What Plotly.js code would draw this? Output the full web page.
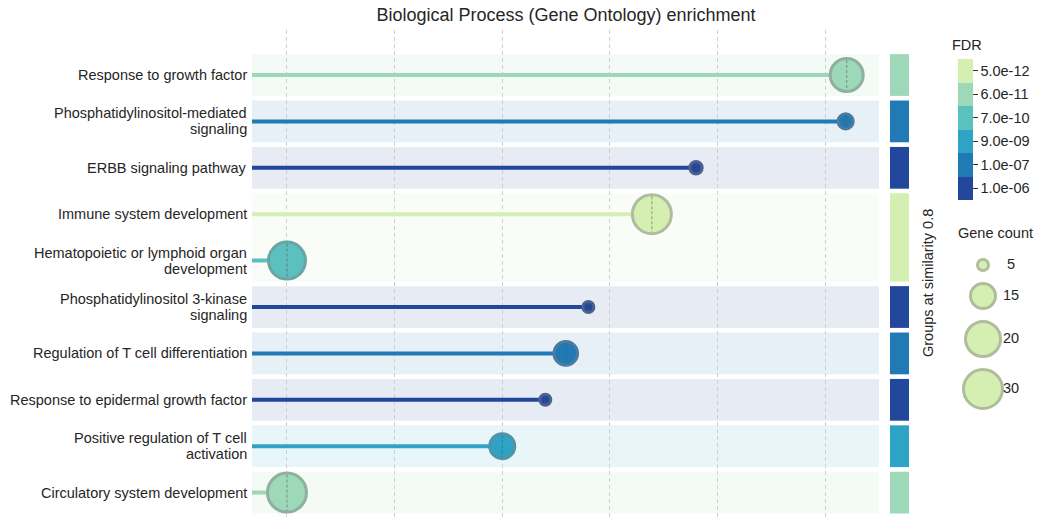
<!DOCTYPE html>
<html>
<head>
<meta charset="utf-8">
<script src="https://cdn.plot.ly/plotly-3.0.1.min.js"></script>
<style>html,body{margin:0;padding:0;background:#fff;}#chart{width:1042px;height:520px;}</style>
</head>
<body>
<div id="chart"></div>
<script>
// ---- data ----
const terms = [
  "Response to growth factor",
  "Phosphatidylinositol-mediated<br>signaling",
  "ERBB signaling pathway",
  "Immune system development",
  "Hematopoietic or lymphoid organ<br>development",
  "Phosphatidylinositol 3-kinase<br>signaling",
  "Regulation of T cell differentiation",
  "Response to epidermal growth factor",
  "Positive regulation of T cell<br>activation",
  "Circulatory system development"
];
const strength = [5.20, 5.19, 3.80, 3.39, 0.00, 2.80, 2.59, 2.40, 2.00, 0.00];
const fdr = ["6.0e-11", "1.0e-07", "1.0e-06", "5.0e-12", "7.0e-10", "1.0e-06", "1.0e-07", "1.0e-06", "9.0e-09", "6.0e-11"];
const geneCount = [19, 8, 6, 30, 25, 5, 14, 5, 15, 30];
const groupId = [1, 2, 3, 4, 4, 5, 6, 7, 8, 9];
const fdrTickLabels = ["1.0e-06", "1.0e-07", "9.0e-09", "7.0e-10", "6.0e-11", "5.0e-12"]; // bottom -> top
const legendCounts = [5, 15, 20, 30];

// ---- styles ----
const fdrColors = ["#23479c", "#2179b5", "#2ea3c6", "#5bc0c0", "#9dd8b9", "#d5efb3"];
const FONT = "Liberation Sans, Arial, Helvetica, sans-serif";
const TXT = "#262626";
const FS = 14.5;
const W = 1042, H = 520;
const plotL = 252, plotR = 879, plotT = 30, plotB = 520;
const xRange = [-0.325, 5.50];
const yRange = [9.59, -0.97];
const pxPerY = (plotB - plotT) / (yRange[0] - yRange[1]);
const OUTLINE = 3;
const LINE_GAP = 16;

// size scale (count -> total diameter px), anchored on legend entries
const sizeAnchors = [[5, 14], [15, 28], [20, 38], [30, 42]];
function diam(c) {
  if (c <= sizeAnchors[0][0]) return sizeAnchors[0][1];
  for (let i = 1; i < sizeAnchors.length; i++) {
    const [c0, d0] = sizeAnchors[i - 1], [c1, d1] = sizeAnchors[i];
    if (c <= c1) return d0 + (d1 - d0) * (c - c0) / (c1 - c0);
  }
  return sizeAnchors[sizeAnchors.length - 1][1];
}
function rgb(hex) { const n = parseInt(hex.slice(1), 16); return [(n >> 16) & 255, (n >> 8) & 255, n & 255]; }
function hexA(hex, a) { const [r, g, b] = rgb(hex); return `rgba(${r},${g},${b},${a})`; }
function edge(hex) { const [r, g, b] = rgb(hex); const m = v => Math.round(v * 0.55 + 128 * 0.45); return `rgb(${m(r)},${m(g)},${m(b)})`; }

const rows = terms.map((_, i) => i);
const fdrIdx = fdr.map(f => fdrTickLabels.indexOf(f));
const rowColor = fdrIdx.map(k => fdrColors[k]);

// discrete colorscale
const cs = [];
fdrColors.forEach((c, k) => { cs.push([k / 6, c]); cs.push([(k + 1) / 6, c]); });

const traces = [];
// stems
rows.forEach(i => {
  traces.push({
    type: "scatter", mode: "lines", x: [xRange[0], strength[i]], y: [i, i],
    line: { color: rowColor[i], width: 4 }, hoverinfo: "skip", showlegend: false
  });
});
// dots with colorbar
traces.push({
  type: "scatter", mode: "markers", x: strength, y: rows,
  cliponaxis: false, showlegend: false,
  marker: {
    size: geneCount.map(c => diam(c) - OUTLINE),
    opacity: 1,
    color: fdrIdx.map(k => k + 0.5), colorscale: cs, cmin: 0, cmax: 6,
    line: { color: rowColor.map(edge), width: OUTLINE },
    showscale: true,
    colorbar: {
      x: 958 / W, xanchor: "left", xpad: 0,
      y: 1 - 129.5 / H, yanchor: "middle", ypad: 0,
      len: 141, lenmode: "pixels", thickness: 15, thicknessmode: "pixels",
      outlinewidth: 0,
      tickvals: fdrTickLabels.map((_, k) => k + 0.5), ticktext: fdrTickLabels,
      ticks: "outside", ticklen: 5, tickcolor: "#333", tickwidth: 1,
      tickfont: { family: FONT, size: FS, color: TXT }
    }
  }
});
// dashed center line inside each dot
const dx = [], dy = [];
rows.forEach(i => {
  const h = (diam(geneCount[i]) / 2 - OUTLINE) / pxPerY;
  dx.push(strength[i], strength[i], null);
  dy.push(i - h, i + h, null);
});
traces.push({
  type: "scatter", mode: "lines", x: dx, y: dy, cliponaxis: false,
  line: { color: "rgba(90,90,90,0.6)", width: 1, dash: "3px,2px" },
  hoverinfo: "skip", showlegend: false
});

// gene count legend
const legD = legendCounts.map(diam);
const legY = [];
legD.forEach((d, k) => { legY.push(k === 0 ? 20 : legY[k - 1] + (legD[k - 1] + d) / 2 + 10); });
traces.push({
  type: "scatter", mode: "markers", xaxis: "x2", yaxis: "y2", cliponaxis: false,
  x: legendCounts.map(() => 0), y: legY, showlegend: false, hoverinfo: "skip",
  marker: { size: legD.map(d => d - OUTLINE), opacity: 1, color: fdrColors[5], line: { color: edge(fdrColors[5]), width: OUTLINE } }
});
traces.push({
  type: "scatter", mode: "text", xaxis: "x2", yaxis: "y2", cliponaxis: false,
  x: legendCounts.map(() => 1), y: legY, text: legendCounts.map(String),
  textposition: "middle center", textfont: { family: FONT, size: FS, color: TXT },
  showlegend: false, hoverinfo: "skip"
});

// group bands + group bars
const shapes = [];
const groups = [...new Set(groupId)];
groups.forEach(g => {
  const members = rows.filter(i => groupId[i] === g);
  const first = Math.min(...members), last = Math.max(...members);
  const best = members.reduce((a, b) => (fdrIdx[b] > fdrIdx[a] ? b : a));
  const col = rowColor[best];
  shapes.push({
    type: "rect", xref: "x domain", yref: "y", x0: 0, x1: 1, y0: first - 0.45, y1: last + 0.45,
    fillcolor: hexA(col, 0.11), line: { width: 0 }, layer: "below"
  });
  shapes.push({
    type: "rect", xref: "x domain", yref: "y",
    x0: (890 - plotL) / (plotR - plotL), x1: (909 - plotL) / (plotR - plotL),
    y0: first - 0.45, y1: last + 0.45, fillcolor: col, line: { width: 0 }, layer: "above"
  });
});

// row labels (each line placed separately for tight line spacing)
const annotations = [];
rows.forEach(i => {
  const lines = terms[i].split("<br>");
  lines.forEach((ln, j) => {
    annotations.push({
      text: ln, xref: "paper", yref: "y", x: 249 / W, y: i, xanchor: "right", yanchor: "middle",
      yshift: -(j - (lines.length - 1) / 2) * LINE_GAP, showarrow: false,
      font: { family: FONT, size: FS, color: TXT }
    });
  });
});
annotations.push(
  { text: "Groups at similarity 0.8", xref: "paper", yref: "paper", x: 928 / W, y: 1 - 283 / H,
    textangle: -90, showarrow: false, xanchor: "center", yanchor: "middle",
    font: { family: FONT, size: FS, color: TXT } },
  { text: "Gene count", xref: "paper", yref: "paper", x: 995 / W, y: 1 - 233 / H,
    showarrow: false, xanchor: "center", yanchor: "middle",
    font: { family: FONT, size: FS, color: TXT } },
  { text: "FDR", xref: "paper", yref: "paper", x: 950 / W, y: 1 - 45 / H,
    showarrow: false, xanchor: "left", yanchor: "middle",
    font: { family: FONT, size: FS, color: TXT } }
);

const layout = {
  width: W, height: H,
  margin: { l: 0, r: 0, t: 0, b: 0 },
  paper_bgcolor: "#fff", plot_bgcolor: "#fff",
  font: { family: FONT, size: FS, color: TXT },
  showlegend: false,
  title: {
    text: "Biological Process (Gene Ontology) enrichment",
    x: 566 / W, xanchor: "center", y: 1 - 15 / H, yanchor: "middle",
    font: { family: FONT, size: 18, color: TXT }
  },
  xaxis: {
    domain: [plotL / W, plotR / W], range: xRange,
    tickvals: [0, 1, 2, 3, 4, 5], showticklabels: false, ticks: "",
    showgrid: true, gridcolor: "#cfcfcf", gridwidth: 1, griddash: "4px,3px",
    zeroline: false, showline: false
  },
  yaxis: {
    domain: [0, 1 - plotT / H], range: yRange,
    tickvals: rows, showticklabels: false, ticks: "", showgrid: false, zeroline: false, showline: false
  },
  xaxis2: { domain: [955 / W, 1025 / W], range: [-1, 1.5], visible: false, anchor: "y2" },
  yaxis2: { domain: [1 - 410 / H, 1 - 245 / H], range: [165, 0], visible: false, anchor: "x2" },
  shapes: shapes,
  annotations: annotations
};

Plotly.newPlot("chart", traces, layout, { displayModeBar: false, staticPlot: true });
</script>
</body>
</html>
